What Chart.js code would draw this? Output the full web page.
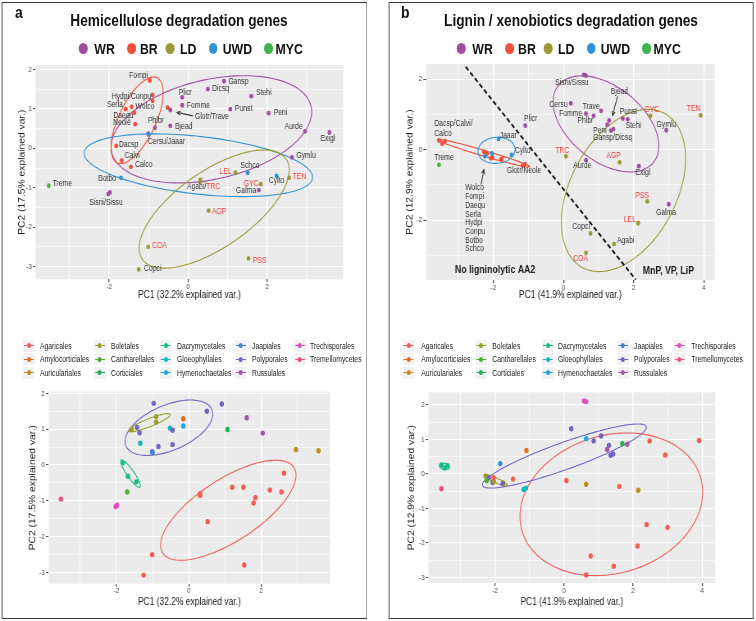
<!DOCTYPE html>
<html>
<head>
<meta charset="utf-8">
<title>PCA of degradation genes</title>
<script src="https://cdn.jsdelivr.net/npm/chart.js@4.4.1/dist/chart.umd.min.js"></script>
<style>
  html, body { margin: 0; padding: 0; background: #fff; }
  body { width: 756px; height: 621px; overflow: hidden; position: relative; font-family: "Liberation Sans", Arial, sans-serif; }
  #root { position: absolute; left: 0; top: 0; height: 621px; transform: scaleX(0.82); transform-origin: 0 0; }
  .box { position: absolute; border: 1.5px solid #383838; border-left-width: 1.8px; border-right-width: 1.8px; box-sizing: border-box; }
  .txt { position: absolute; white-space: nowrap; line-height: 1; color: #111; }
  .key { position: absolute; background: #F2F2F2; }
  canvas { position: absolute; }
</style>
</head>
<body>
<div id="root">
  <canvas id="hemiLife"></canvas>
  <canvas id="ligLife"></canvas>
  <canvas id="hemiOrder"></canvas>
  <canvas id="ligOrder"></canvas>
</div>
<script>
// the original figure is squeezed horizontally, so everything is laid out wider and scaled
const S = 0.82;

// ---- data ----
const species = ["Fompi","Hydpi","Conpu","Serla","Wolco","Daequ","Neole","Glotr","Dacsp","Calvi","Calco",
  "Phlbr","Bjead","Plicr","Fomme","Trave","Dicsq","Gansp","Stehi","Punst","Peni","Aurde","Exigl","Gymlu",
  "Cersu","Jaaar","Galma","Sisni","Sissu","Botbo","Schco","Cylto","Treme",
  "Agabi","TRC","LEL","GYC","TEN","AGP","COA","PSS","Copci"];
const lifestyle = ["BR","BR","BR","BR","BR","BR","BR","BR","BR","BR","BR",
  "WR","WR","WR","WR","WR","WR","WR","WR","WR","WR","WR","WR","WR",
  "WR","UWD","WR","WR","WR","UWD","UWD","UWD","MYC",
  "LD","LD","LD","LD","LD","LD","LD","LD","LD"];
const order = ["Polyporales","Boletales","Boletales","Boletales","Polyporales","Polyporales","Gloeophyllales","Gloeophyllales","Dacrymycetales","Dacrymycetales","Dacrymycetales",
  "Polyporales","Polyporales","Amylocorticiales","Hymenochaetales","Polyporales","Polyporales","Polyporales","Russulales","Corticiales","Russulales","Auriculariales","Auriculariales","Agaricales",
  "Polyporales","Jaapiales","Agaricales","Trechisporales","Trechisporales","Cantharellales","Agaricales","Agaricales","Tremellomycetes",
  "Agaricales","Agaricales","Agaricales","Agaricales","Agaricales","Agaricales","Agaricales","Agaricales","Agaricales"];
const metagenomes = ["TRC","LEL","GYC","TEN","AGP","COA","PSS"];

const hemiPC1 = [-0.97,-0.90,-0.90,-1.58,-1.43,-1.36,-1.34,-0.52,-1.82,-1.68,-1.45,
  -0.84,-0.45,-0.15,-0.15,-0.45,0.50,0.91,1.60,1.07,2.04,2.96,3.58,2.63,
  -1.01,-1.00,1.79,-2.02,-1.98,-1.70,1.51,2.24,-3.53,
  0.31,0.31,1.20,1.84,2.56,0.52,-1.01,1.53,-1.25];
const hemiPC2 = [1.72,1.35,1.20,0.99,1.05,0.90,0.61,1.03,0.06,-0.31,-0.47,
  0.52,0.57,1.29,1.09,0.97,1.50,1.70,1.32,0.99,0.89,0.43,0.40,-0.23,
  0.37,0.35,-1.06,-1.16,-1.12,-0.75,-0.62,-0.70,-0.95,
  -0.80,-0.85,-0.62,-0.91,-0.75,-1.58,-2.50,-2.79,-3.07];
const ligPC1 = [-2.07,-2.03,-1.76,-2.27,-2.18,-1.78,-1.17,-1.10,-3.55,-3.46,-3.38,
  0.86,1.30,-1.09,0.64,1.07,1.42,1.35,1.83,1.69,1.25,0.64,2.15,2.93,
  0.21,-1.85,3.00,0.58,0.64,-2.24,-2.04,-1.48,-3.55,
  1.44,0.07,2.13,2.48,3.91,1.60,0.64,2.39,0.77];
const ligPC2 = [-0.25,-0.22,-0.26,-0.06,-0.11,-0.28,-0.45,-0.41,0.26,0.17,0.24,
  0.96,0.83,0.68,1.02,1.10,0.58,0.54,0.86,0.88,0.71,-0.30,-0.47,0.55,
  1.31,0.30,-1.55,2.12,2.10,-0.19,-0.11,-0.15,-0.43,
  -2.68,-0.19,-2.09,0.96,0.97,-0.36,-2.93,-1.47,-2.38];

const lifestyleNames = ["WR","BR","LD","UWD","MYC"];
const lifestyleColors = ["#A04FA0","#F24E3A","#9C9A36","#2F93D3","#3DB54A"];
const orderNames = ["Agaricales","Amylocorticiales","Auriculariales","Boletales","Cantharellales","Corticiales","Dacrymycetales",
  "Gloeophyllales","Hymenochaetales","Jaapiales","Polyporales","Russulales","Trechisporales","Tremellomycetes"];
const orderColors = ["#F35B55","#E0701E","#BE8E1A","#9AA12B","#4DAE2E","#22B14C","#16BC8A",
  "#10B7BC","#1AA8E6","#3E84D6","#7364C4","#A552B0","#DE4FC0","#F04C8C"];

// axis breaks: grid lines and the ones that carry a label
const xGridA = [-3,-2,-1,0,1,2,3], xLabA = [-2,0,2];
const yGridA = [-3,-2.5,-2,-1.5,-1,-0.5,0,0.5,1,1.5,2], yLabA = [-3,-2,-1,0,1,2];
const xGridB = [-3,-2,-1,0,1,2,3,4], xLabB = [-2,0,2,4];
const yGridBTop = [-3,-2,-1,0,1,2], yLabBTop = [-2,0,2];
const yGridBBot = [-3,-2.5,-2,-1.5,-1,-0.5,0,0.5,1,1.5,2], yLabBBot = [-3,-2,-1,0,1,2];

// ---- confidence ellipses (stat_ellipse output) ----
const hemiLifeEllipses = [
  { group: "WR", cx: 0.59, cy: 0.48, a: 2.59, b: 1.26, deg: 13 },
  { group: "BR", cx: -1.29, cy: 0.71, a: 1.19, b: 0.47, deg: 65 },
  { group: "UWD", cx: 0.26, cy: -0.43, a: 2.91, b: 0.73, deg: -6.4 },
  { group: "LD", cx: 0.66, cy: -1.54, a: 2.22, b: 0.96, deg: 35 }
];
const hemiOrderEllipses = [
  { group: "Polyporales", cx: -0.55, cy: 1.04, a: 1.29, b: 0.63, deg: 23.4 },
  { group: "Boletales", cx: -1.09, cy: 1.18, a: 0.62, b: 0.11, deg: 22 },
  { group: "Dacrymycetales", cx: -1.61, cy: -0.24, a: 0.46, b: 0.10, deg: -55.6 },
  { group: "Agaricales", cx: 1.09, cy: -1.26, a: 2.17, b: 0.86, deg: 33.5 }
];
const ligLifeEllipses = [
  { group: "WR", cx: 1.21, cy: 0.73, a: 1.74, b: 1.05, deg: -38.8 },
  { group: "BR", cx: -2.28, cy: -0.10, a: 1.37, b: 0.08, deg: -16.4 },
  { group: "UWD", cx: -1.91, cy: -0.02, a: 0.53, b: 0.37, deg: 5 },
  { group: "LD", cx: 1.71, cy: -1.16, a: 2.48, b: 1.51, deg: 62 }
];
const ligOrderEllipses = [
  { group: "Agaricales", cx: 1.37, cy: -0.88, a: 2.70, b: 2.00, deg: 17.2 },
  { group: "Polyporales", cx: 0.01, cy: 0.52, a: 2.52, b: 0.39, deg: 19.8 },
  { group: "Boletales", cx: -1.98, cy: -0.18, a: 0.37, b: 0.07, deg: -24.8 },
  { group: "Dacrymycetales", cx: -3.46, cy: 0.22, a: 0.15, b: 0.09, deg: -10 }
];

// ---- point labels: anchor, text, dx, dy (px), align, line gap ----
const hemiLabels = [
  ["Fompi","Fompi",-1.7,-5,"right"], ["Hydpi","Hydpi/Conpu",-1.5,2,"right"], ["Serla","Serla",-2.7,-4.3,"right"],
  ["Wolco","Wolco",4,0,"left"], ["Daequ","Daequ",-1,2.7,"right"], ["Neole","Neole",-4.3,-1,"right"],
  ["Phlbr","Phlbr",1,-7,"center"], ["Bjead","Bjead",4.7,0.7,"left"], ["Plicr","Plicr",3,-5,"center"],
  ["Fomme","Fomme",4.7,0,"left"], ["Trave","Glotr/Trave",24.7,6.7,"left"], ["Dicsq","Dicsq",4.3,0,"left"],
  ["Gansp","Gansp",4.3,0.7,"left"], ["Stehi","Stehi",4.7,-3.7,"left"], ["Punst","Punst",4.7,-0.7,"left"],
  ["Peni","Peni",5,0,"left"], ["Aurde","Aurde",-2.3,-4.7,"right"], ["Exigl","Exigl",-1.7,6,"center"],
  ["Gymlu","Gymlu",4.3,-1.3,"left"], ["Cersu","Cersu/Jaaar",-0.3,8.3,"left"], ["Dacsp","Dacsp",2.7,-1,"left"],
  ["Calvi","Calvi",3,-5,"left"], ["Calco","Calco",4.3,-2.3,"left"], ["Botbo","Botbo",-5,1.3,"right"],
  ["Treme","Treme",4,-1.7,"left"], ["Sisni","Sisni/Sissu",-2.3,8.7,"center"], ["Schco","Schco",2.3,-7.3,"center"],
  ["LEL","LEL",-3.7,-0.7,"right"], ["TRC","Agabi/TRC",3.3,5,"center"], ["GYC","GYC",-2.3,-0.7,"right"],
  ["Galma","Galma",-2.7,1,"right"], ["Cylto","Cylto",0,4.7,"center"], ["TEN","TEN",3.3,-1,"left"],
  ["AGP","AGP",3.3,1,"left"], ["COA","COA",4,-1,"left"], ["PSS","PSS",4.3,2.7,"left"], ["Copci","Copci",5.3,-0.7,"left"]
];
const ligLabels = [
  ["Sisni","Sisni/Sissu",-12,7.3,"center"], ["Cersu","Cersu",-3.3,1,"right"], ["Trave","Trave",-1.3,-3.7,"right"],
  ["Fomme","Fomme",-3.7,0,"right"], ["Phlbr","Phlbr",-0.3,5.3,"right"], ["Bjead","Bjead",10.3,-29,"center"],
  ["Peni","Peni",-0.7,5.7,"right"], ["Punst","Punst",5.7,-7,"center"], ["Stehi","Stehi",5.7,6.7,"center"],
  ["Gansp","Gansp/Dicsq",1.7,7.3,"center"], ["GYC","GYC",1.3,-5.7,"center"], ["TEN","TEN",-7,-6.7,"center"],
  ["Gymlu","Gymlu",0,-6,"center"], ["Plicr","Plicr",5.3,-6.7,"center"], ["Jaaar","Jaaar",1,-3,"left"],
  ["Cylto","Cylto",3.3,-4,"left"], ["Dacsp","Dacsp/Calvi/\nCalco",-4.7,-16.7,"left",9.7], ["Treme","Treme",-4.7,-6.7,"left"],
  ["Glotr","Glotr/Neole",-1,7,"center"], ["TRC","TRC",-3.7,-5.3,"center"], ["AGP","AGP",-6,-6.7,"center"],
  ["Aurde","Aurde",-3.7,5.3,"center"], ["Exigl","Exigl",4,6.7,"center"], ["PSS","PSS",-5.3,-6,"center"],
  ["Galma","Galma",-2.7,8,"center"], ["LEL","LEL",-2.3,-3.7,"right"], ["Copci","Copci",-0.7,-6.3,"right"],
  ["Agabi","Agabi",3,-3.7,"left"], ["COA","COA",-5.3,6.3,"center"],
  [[-2.35,-0.99],"Wolco\nFompi\nDaequ\nSerla\nHydpi\nConpu\nBotbo\nSchco",-16,3.7,"left",8.67]
];

const baseFont = '"Liberation Sans", Arial, sans-serif';
Chart.defaults.font.family = baseFont;

function drawLabel(ctx, x, y, str, align, gap) {
  ctx.font = `8.3px ${baseFont}`;
  ctx.textBaseline = "middle";
  ctx.textAlign = "left";
  str.split("\n").forEach((line, li) => {
    const parts = line.split(/(\/)/).filter(p => p.length);
    const widths = parts.map(p => ctx.measureText(p).width);
    const total = widths.reduce((s, w) => s + w, 0);
    let cx = align === "left" ? x : align === "right" ? x - total : x - total / 2;
    parts.forEach((p, k) => {
      ctx.fillStyle = metagenomes.includes(p) ? "#EE3B3B" : "#333333";
      ctx.fillText(p, cx, y + li * gap);
      cx += widths[k];
    });
  });
}

function drawArrow(ctx, a, b) {
  ctx.strokeStyle = "#3A3A3A";
  ctx.lineWidth = 1.1;
  ctx.beginPath(); ctx.moveTo(a[0], a[1]); ctx.lineTo(b[0], b[1]); ctx.stroke();
  const ang = Math.atan2(b[1] - a[1], b[0] - a[0]), h = 4.5;
  ctx.beginPath();
  ctx.moveTo(b[0] - h * Math.cos(ang - 0.45), b[1] - h * Math.sin(ang - 0.45));
  ctx.lineTo(b[0], b[1]);
  ctx.lineTo(b[0] - h * Math.cos(ang + 0.45), b[1] - h * Math.sin(ang + 0.45));
  ctx.stroke();
}

function decor(spec) {
  const toPx = (chart, p) => [chart.scales.x.getPixelForValue(p[0]), chart.scales.y.getPixelForValue(p[1])];
  return {
    id: "decor",
    beforeDraw(chart) {
      const { ctx, chartArea: a } = chart;
      ctx.save();
      ctx.fillStyle = "#EBEBEB";
      ctx.fillRect(a.left, a.top, a.right - a.left, a.bottom - a.top);
      ctx.restore();
    },
    beforeDatasetsDraw(chart) {
      const { ctx, chartArea: a } = chart;
      ctx.save();
      ctx.beginPath(); ctx.rect(a.left, a.top, a.right - a.left, a.bottom - a.top); ctx.clip();
      spec.ellipses.forEach(e => {
        const t = e.deg * Math.PI / 180;
        ctx.beginPath();
        for (let k = 0; k <= 140; k++) {
          const u = k / 140 * 2 * Math.PI;
          const dx = e.a * Math.cos(u), dy = e.b * Math.sin(u);
          const p = toPx(chart, [e.cx + dx * Math.cos(t) - dy * Math.sin(t), e.cy + dx * Math.sin(t) + dy * Math.cos(t)]);
          if (k) ctx.lineTo(p[0], p[1]); else ctx.moveTo(p[0], p[1]);
        }
        ctx.closePath();
        ctx.strokeStyle = spec.colorOf(e.group);
        ctx.lineWidth = 1.1;
        ctx.stroke();
      });
      (spec.lines || []).forEach(l => {
        const p = toPx(chart, l[0]), q = toPx(chart, l[1]);
        ctx.setLineDash([5, 3]);
        ctx.strokeStyle = "#111111";
        ctx.lineWidth = 2;
        ctx.beginPath(); ctx.moveTo(p[0], p[1]); ctx.lineTo(q[0], q[1]); ctx.stroke();
        ctx.setLineDash([]);
      });
      ctx.restore();
    },
    afterDatasetsDraw(chart) {
      const { ctx } = chart;
      ctx.save();
      (spec.arrows || []).forEach(ar => drawArrow(ctx, toPx(chart, ar[0]), toPx(chart, ar[1])));
      (spec.labels || []).forEach(lb => {
        let at = lb[0];
        if (typeof at === "string") {
          const i = species.indexOf(at);
          at = [spec.xs[i], spec.ys[i]];
        }
        const p = toPx(chart, at);
        drawLabel(ctx, p[0] + lb[2] / S, p[1] + lb[3], lb[1], lb[4], lb[5] || 9);
      });
      (spec.notes || []).forEach(n => {
        const p = toPx(chart, n[0]);
        ctx.font = `bold 10.7px ${baseFont}`;
        ctx.textAlign = "center";
        ctx.textBaseline = "middle";
        ctx.fillStyle = "#1A1A1A";
        ctx.fillText(n[1], p[0], p[1]);
      });
      ctx.restore();
    }
  };
}

function frame(x, y, w, h, plot, yTitleX, xTitleY) {
  return { x, y, w, h,
    yW: (plot[0] - x) / S, padR: (x + w - plot[2]) / S, padT: plot[1] - y, xH: y + h - plot[3],
    yTitlePad: (yTitleX - x) / S - 10.3 / 2, xTitlePad: Math.max(0, y + h - xTitleY - 10.3 / 2) };
}

function axis(kind, L, grid, labels, min, max, title) {
  const horizontal = kind === "x";
  const isMajor = c => !!(c.tick && labels.includes(c.tick.value));
  return {
    type: "linear", position: horizontal ? "bottom" : "left", min, max,
    afterBuildTicks: s => { s.ticks = grid.map(v => ({ value: v })); },
    afterFit: s => { if (horizontal) s.height = L.xH; else s.width = L.yW; },
    ticks: { autoSkip: false, maxRotation: 0, minRotation: 0, padding: horizontal ? 0.5 : 1.2, color: "#4D4D4D",
      font: { size: 8, lineHeight: 1 }, callback: v => labels.includes(v) ? String(v) : "" },
    grid: { color: "#FFFFFF", lineWidth: c => isMajor(c) ? (horizontal ? 1.35 : 1.1) : (horizontal ? 0.7 : 0.55),
      tickColor: c => isMajor(c) ? "#333333" : "rgba(0,0,0,0)", tickLength: horizontal ? 3 : 3.3, tickWidth: horizontal ? 1.1 : 0.9 },
    border: { display: false },
    title: { display: true, text: title, color: "#1A1A1A", font: { size: 10.3, lineHeight: 1 },
      padding: horizontal ? { top: 0, bottom: L.xTitlePad } : { top: L.yTitlePad, bottom: 0 } }
  };
}

function build(id, L, xs, ys, colors, radius, scales, spec) {
  const cv = document.getElementById(id);
  cv.width = Math.round(L.w / S);
  cv.height = L.h;
  cv.style.left = (L.x / S) + "px";
  cv.style.top = L.y + "px";
  spec.xs = xs; spec.ys = ys;
  return new Chart(cv, {
    type: "scatter",
    data: { datasets: [{ data: xs.map((v, i) => ({ x: v, y: ys[i] })), pointRadius: radius, pointHoverRadius: radius,
      pointBackgroundColor: colors, pointBorderWidth: 0 }] },
    options: {
      responsive: false, animation: false, devicePixelRatio: 1, events: [],
      layout: { padding: { left: 0, top: L.padT, right: L.padR, bottom: 0 } },
      plugins: { legend: { display: false }, tooltip: { enabled: false } },
      scales
    },
    plugins: [decor(spec)]
  });
}

const lifeColor = g => lifestyleColors[lifestyleNames.indexOf(g)];
const orderColor = g => orderColors[orderNames.indexOf(g)];
const lifePointColors = lifestyle.map(lifeColor);
const orderPointColors = order.map(orderColor);

const layTL = frame(2, 56, 349, 250, [36, 65, 343.3, 279.3], 22.5, 295.5);
const layTR = frame(390, 55, 330, 251, [425.7, 64, 714.7, 280], 409.8, 295.5);
const layBL = frame(2, 385, 335, 222, [49, 391.7, 330, 583.7], 33.3, 602);
const layBR = frame(390, 385, 330, 222, [428, 392.3, 715.3, 583], 411.3, 602);

build("hemiLife", layTL, hemiPC1, hemiPC2, lifePointColors, 2.4, {
  x: axis("x", layTL, xGridA, xLabA, -3.86, 3.93, "PC1 (32.2% explained var.)"),
  y: axis("y", layTL, yGridA, yLabA, -3.32, 2.11, "PC2 (17.5% explained var.)")
}, { ellipses: hemiLifeEllipses, colorOf: lifeColor, labels: hemiLabels, arrows: [[[0.12, 0.82], [-0.28, 0.91]]] });

build("ligLife", layTR, ligPC1, ligPC2, lifePointColors, 2.4, {
  x: axis("x", layTR, xGridB, xLabB, -3.92, 4.31, "PC1 (41.9% explained var.)"),
  y: axis("y", layTR, yGridBTop, yLabBTop, -3.70, 2.43, "PC2 (12.9% explained var.)")
}, { ellipses: ligLifeEllipses, colorOf: lifeColor, labels: ligLabels,
     lines: [[[-2.79, 2.35], [2.06, -3.69]]],
     arrows: [[[1.54, 1.51], [1.40, 0.97]], [[-2.35, -0.99], [-2.27, -0.57]]],
     notes: [[[-1.95, -3.41], "No ligninolytic AA2"], [[2.99, -3.46], "MnP, VP, LiP"]] });

build("hemiOrder", layBL, hemiPC1, hemiPC2, orderPointColors, 2.7, {
  x: axis("x", layBL, xGridA, xLabA, -3.87, 3.90, "PC1 (32.2% explained var.)"),
  y: axis("y", layBL, yGridA, yLabA, -3.31, 2.045, "PC2 (17.5% explained var.)")
}, { ellipses: hemiOrderEllipses, colorOf: orderColor });

build("ligOrder", layBR, ligPC1, ligPC2, orderPointColors, 2.7, {
  x: axis("x", layBR, xGridB, xLabB, -3.93, 4.38, "PC1 (41.9% explained var.)"),
  y: axis("y", layBR, yGridBBot, yLabBBot, -3.165, 2.37, "PC2 (12.9% explained var.)")
}, { ellipses: ligOrderEllipses, colorOf: orderColor });

// ---- frames, titles and legends (html) ----
const root = document.getElementById("root");
root.style.width = (756 / S) + "px";

function el(cls, x, y, css) {
  const d = document.createElement("div");
  d.className = cls;
  d.style.left = (x / S) + "px";
  d.style.top = y + "px";
  Object.assign(d.style, css || {});
  root.appendChild(d);
  return d;
}
function txt(str, x, y, size, bold, center, color) {
  const d = el("txt", x, y, { fontSize: size + "px", fontWeight: bold ? "bold" : "normal" });
  if (center) d.style.transform = "translateX(-50%)";
  if (color) d.style.color = color;
  d.textContent = str;
  return d;
}

el("box", 1.5, 1.5, { width: (365.5 / S) + "px", height: "617.5px" });
el("box", 388.5, 1.5, { width: (365.5 / S) + "px", height: "617.5px" });

txt("a", 15, 3.9, 17, true);
txt("b", 401, 3.9, 17, true);
txt("Hemicellulose degradation genes", 179, 12.8, 16.7, true, true);
txt("Lignin / xenobiotics degradation genes", 571, 12.8, 16.7, true, true);

const lifeDotX = [83.3, 131.7, 170, 213.3, 268.5];
const lifeTextX = [94.3, 140, 180, 222.7, 275.5];
[0, 378].forEach(off => {
  lifestyleNames.forEach((n, i) => {
    el("txt", lifeDotX[i] + off - 5.25 * S, 43, { width: "10.5px", height: "10.5px", borderRadius: "50%", background: lifestyleColors[i] });
    txt(n, lifeTextX[i] + off, 41.3, 15, true);
  });
});

const orderRows = [346, 359.3, 372.7];
const orderLegends = [
  { keys: [29, 100, 166, 241, 300], texts: [40, 111, 177, 252, 310] },
  { keys: [408.5, 481.3, 548, 623, 679.7], texts: [421.3, 492.3, 558, 634, 691.3] }
];
orderLegends.forEach(lg => {
  orderNames.forEach((n, i) => {
    const col = Math.floor(i / 3), row = i % 3, cy = orderRows[row];
    const key = el("key", lg.keys[col] - 7 * S, cy - 6.2, { width: "14px", height: "12.4px" });
    const line = document.createElement("div");
    Object.assign(line.style, { position: "absolute", left: "1px", right: "1px", top: "5.7px", height: "1px", background: orderColors[i] });
    const dot = document.createElement("div");
    Object.assign(dot.style, { position: "absolute", left: "4.5px", top: "3.7px", width: "5px", height: "5px", borderRadius: "50%", background: orderColors[i] });
    key.appendChild(line); key.appendChild(dot);
    txt(n, lg.texts[col], cy - 4.1, 8.3, false, false, "#1A1A1A");
  });
});
</script>
</body>
</html>
